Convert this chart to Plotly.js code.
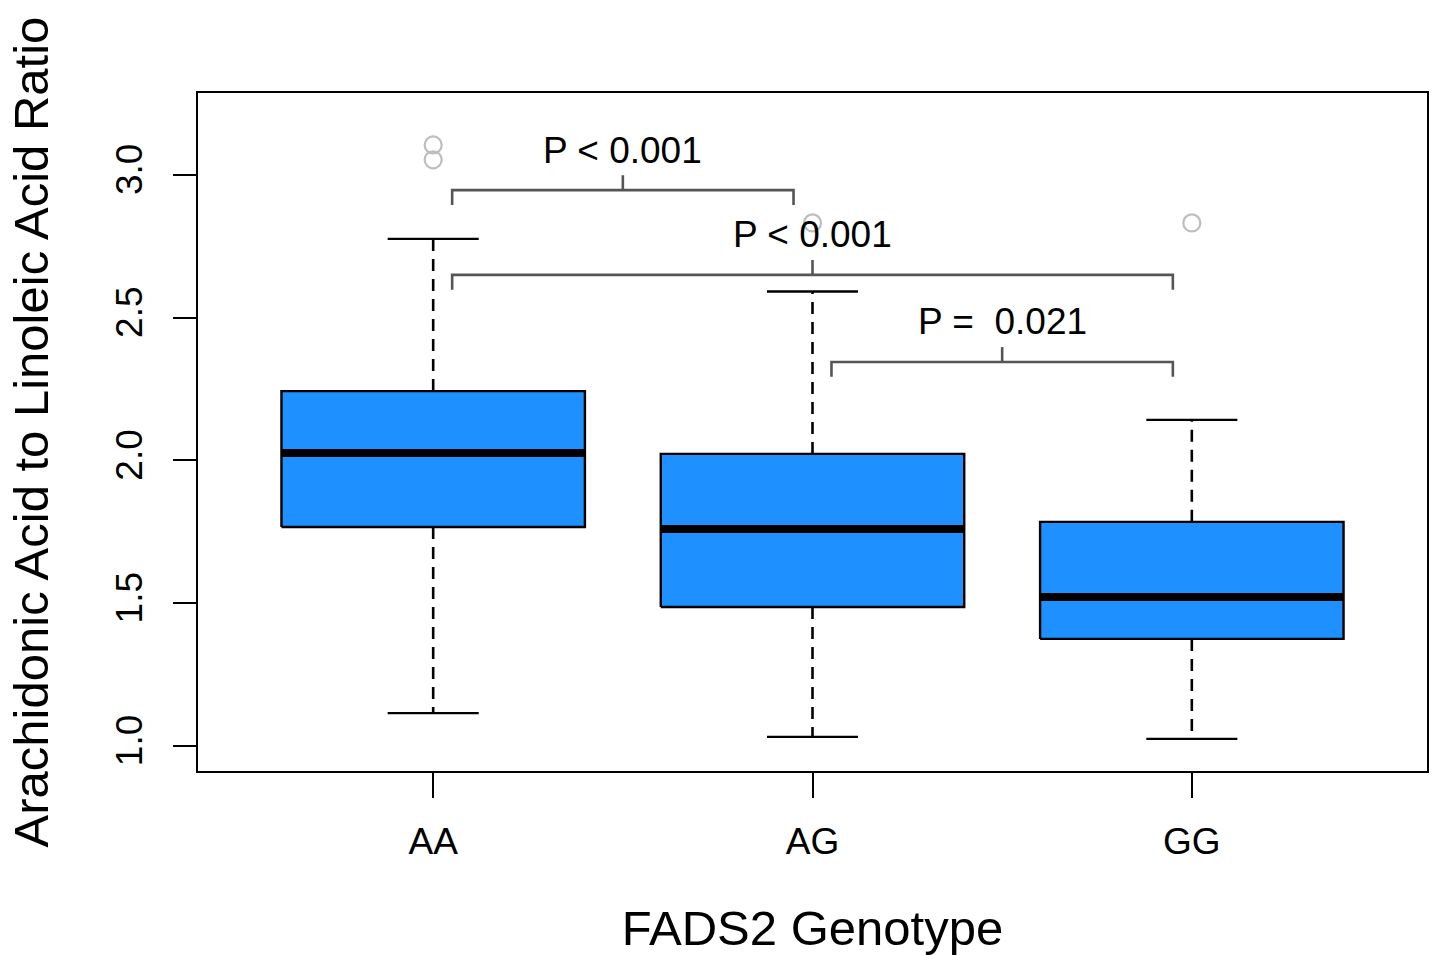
<!DOCTYPE html>
<html>
<head>
<meta charset="utf-8">
<script src="https://cdn.plot.ly/plotly-3.0.1.min.js"></script>
<style>html,body{margin:0;padding:0;background:#fff;}#chart{width:1432px;height:955px;}</style>
</head>
<body>
<div id="chart"></div>
<script>
// ---- data ----
var categories = ['AA', 'AG', 'GG'];
var positions = [1, 2, 3];
var lowerWhisker = [1.115, 1.032, 1.025];
var q1 = [1.767, 1.487, 1.375];
var median = [2.026, 1.760, 1.522];
var q3 = [2.243, 2.023, 1.785];
var upperWhisker = [2.776, 2.592, 2.142];
var outlierX = [1, 1, 2, 3];
var outlierY = [3.105, 3.053, 2.832, 2.832];

var yTickVals = [1.0, 1.5, 2.0, 2.5, 3.0];
var yTickText = ['1.0', '1.5', '2.0', '2.5', '3.0'];

// pairwise comparisons: group indices, bracket height, label
var compFrom = [1, 1, 2];
var compTo = [2, 3, 3];
var compY = [2.947, 2.650, 2.345];
var compLabel = ['P < 0.001', 'P < 0.001', 'P =\u00A0 0.021'];

// ---- styling constants ----
var BOX_HALF = 0.4, CAP_HALF = 0.12, BR_INSET = 0.05, BR_TIP = 0.052, LABEL_GAP = 0.14;
var FONT = 'Liberation Sans, Arial, Helvetica, sans-serif';

var traces = [];

// whiskers (dashed)
var wx = [], wy = [];
for (var i = 0; i < positions.length; i++) {
  wx.push(positions[i], positions[i], null, positions[i], positions[i], null);
  wy.push(q3[i], upperWhisker[i], null, q1[i], lowerWhisker[i], null);
}
traces.push({x: wx, y: wy, mode: 'lines', type: 'scatter', hoverinfo: 'skip',
  line: {color: '#000', width: 2.6, dash: '12px,8px'}, showlegend: false});

// caps
var cx = [], cy = [];
for (var i = 0; i < positions.length; i++) {
  cx.push(positions[i] - CAP_HALF, positions[i] + CAP_HALF, null, positions[i] - CAP_HALF, positions[i] + CAP_HALF, null);
  cy.push(upperWhisker[i], upperWhisker[i], null, lowerWhisker[i], lowerWhisker[i], null);
}
traces.push({x: cx, y: cy, mode: 'lines', type: 'scatter', hoverinfo: 'skip',
  line: {color: '#000', width: 2.4}, showlegend: false});

// boxes
for (var i = 0; i < positions.length; i++) {
  var p = positions[i];
  traces.push({
    x: [p - BOX_HALF, p + BOX_HALF, p + BOX_HALF, p - BOX_HALF, p - BOX_HALF],
    y: [q1[i], q1[i], q3[i], q3[i], q1[i]],
    mode: 'lines', type: 'scatter', fill: 'toself', fillcolor: '#1E90FF',
    line: {color: '#000', width: 2.4}, hoverinfo: 'skip', showlegend: false, name: categories[i]
  });
}

// medians
var mx = [], my = [];
for (var i = 0; i < positions.length; i++) {
  mx.push(positions[i] - BOX_HALF, positions[i] + BOX_HALF, null);
  my.push(median[i], median[i], null);
}
traces.push({x: mx, y: my, mode: 'lines', type: 'scatter', hoverinfo: 'skip',
  line: {color: '#000', width: 8}, showlegend: false});

// outliers
traces.push({x: outlierX, y: outlierY, mode: 'markers', type: 'scatter', hoverinfo: 'skip',
  marker: {symbol: 'circle-open', size: 17, color: '#BDBDBD', line: {width: 2.2, color: '#BDBDBD'}},
  showlegend: false});

// comparison brackets
var bx = [], by = [];
var annotations = [];
for (var k = 0; k < compFrom.length; k++) {
  var a = compFrom[k] + BR_INSET, b = compTo[k] - BR_INSET, h = compY[k], mid = (compFrom[k] + compTo[k]) / 2;
  bx.push(a, a, b, b, null, mid, mid, null);
  by.push(h - BR_TIP, h, h, h - BR_TIP, null, h, h + BR_TIP, null);
  annotations.push({x: mid, y: h + LABEL_GAP, xref: 'x', yref: 'y', text: compLabel[k],
    showarrow: false, xanchor: 'center', yanchor: 'middle',
    font: {family: FONT, size: 37, color: '#000'}});
}
traces.push({x: bx, y: by, mode: 'lines', type: 'scatter', hoverinfo: 'skip',
  line: {color: '#555', width: 2.6}, showlegend: false});

var layout = {
  width: 1432, height: 955,
  margin: {l: 198, r: 5, t: 93, b: 184},
  paper_bgcolor: '#fff', plot_bgcolor: '#fff',
  font: {family: FONT, color: '#000'},
  showlegend: false,
  xaxis: {
    range: [0.38, 3.62], tickvals: positions, ticktext: categories,
    showgrid: false, zeroline: false, showline: true, mirror: true,
    linecolor: '#000', linewidth: 2, ticks: 'outside', ticklen: 25, tickwidth: 2, tickcolor: '#000',
    tickfont: {family: FONT, size: 37, color: '#000'}, ticklabelstandoff: 12,
    title: {text: 'FADS2 Genotype', font: {family: FONT, size: 49, color: '#000'}, standoff: 50}
  },
  yaxis: {
    range: [0.9124, 3.287], tickvals: yTickVals, ticktext: yTickText, tickangle: -90,
    showgrid: false, zeroline: false, showline: true, mirror: true,
    linecolor: '#000', linewidth: 2, ticks: 'outside', ticklen: 23, tickwidth: 2, tickcolor: '#000',
    tickfont: {family: FONT, size: 37, color: '#000'}, ticklabelstandoff: 16,
    title: {text: 'Arachidonic Acid to Linoleic Acid Ratio', font: {family: FONT, size: 49, color: '#000'}, standoff: 45}
  },
  annotations: annotations
};

Plotly.newPlot('chart', traces, layout, {displayModeBar: false, staticPlot: true});
</script>
</body>
</html>
